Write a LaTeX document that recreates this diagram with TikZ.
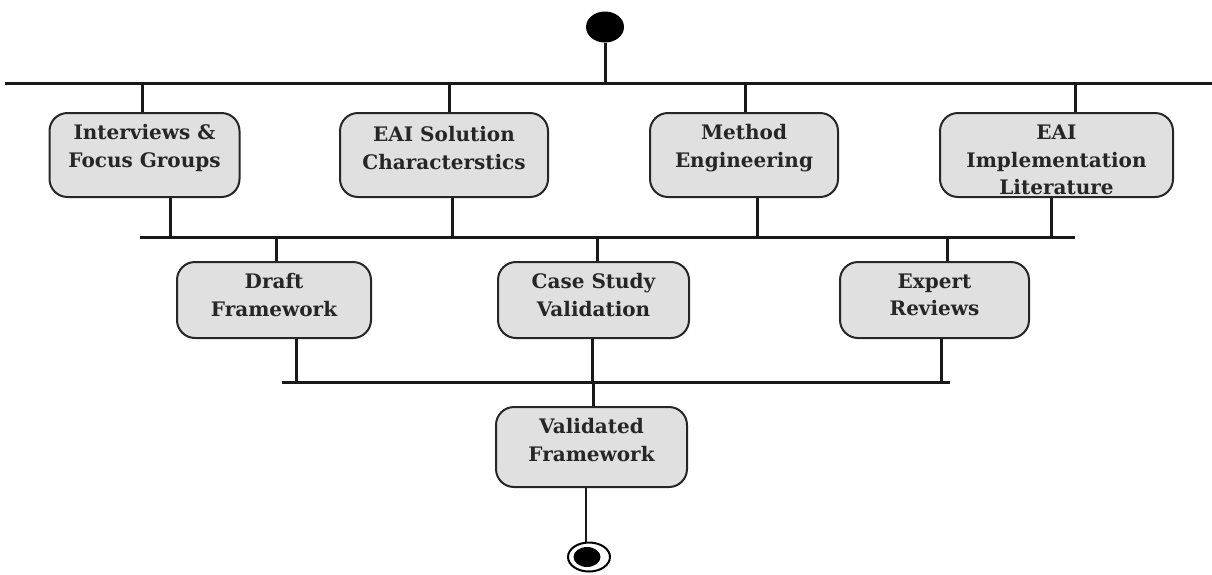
\documentclass[tikz,border=0pt]{standalone}
\usepackage{fontspec}
\usetikzlibrary{shapes.geometric}
\newfontfamily\boxfont{DejaVu Serif}
\begin{document}
\begin{tikzpicture}[x=1pt,y=-1pt,
  box/.style={draw=black!85, line width=2pt, fill=black!12, rounded corners=18pt,
    minimum height=84pt, inner sep=0pt},
  lbl/.style={font=\boxfont\bfseries\fontsize{20}{27.5}\selectfont, align=center,
    text=black!85, inner sep=0pt},
  conn/.style={line width=3pt, black!90},
  barline/.style={line width=3pt, black!90},
]
\useasboundingbox (0,0) rectangle (1212,574);

% initial and final states
\node[fill=black, ellipse, minimum width=38pt, minimum height=31pt, inner sep=0pt] (start) at (605,27) {};
\node[draw=black, line width=2pt, fill=white, ellipse, minimum width=42pt, minimum height=29pt, inner sep=0pt] (final) at (589,557) {};
\node[fill=black, ellipse, minimum width=27pt, minimum height=20pt, inner sep=0pt] (finalin) at (587,557) {};

% synchronisation bars
\coordinate (bar1L) at (5,83);   \coordinate (bar1R) at (1212,83);
\coordinate (bar2L) at (140,237); \coordinate (bar2R) at (1075,237);
\coordinate (bar3L) at (282,382); \coordinate (bar3R) at (950,382);
\draw[barline] (bar1L) -- (bar1R);
\draw[barline] (bar2L) -- (bar2R);
\draw[barline] (bar3L) -- (bar3R);

% first row of activities
\node[box, minimum width=190pt] (b1) at (144.5,155) {};
\node[box, minimum width=208pt] (b2) at (444,155) {};
\node[box, minimum width=188pt] (b3) at (744,155) {};
\node[box, minimum width=233pt] (b4) at (1056.5,155) {};
\node[lbl] at ([yshift=7]b1.center) {Interviews \&\\Focus Groups};
\node[lbl] at ([yshift=7]b2.center) {EAI Solution\\Characterstics};
\node[lbl] at ([yshift=7]b3.center) {Method\\Engineering};
\node[lbl] at ([yshift=-5]b4.center) {EAI\\Implementation\\Literature};

% second row of activities
\node[box, minimum width=194pt, minimum height=76pt] (d1) at (274,300) {};
\node[box, minimum width=191pt, minimum height=76pt] (d2) at (593.5,300) {};
\node[box, minimum width=189pt, minimum height=76pt] (d3) at (934.5,300) {};
\node[lbl] at ([yshift=5]d1.center) {Draft\\Framework};
\node[lbl] at ([yshift=5]d2.center) {Case Study\\Validation};
\node[lbl] at ([yshift=5]d3.center) {Expert\\Reviews};

% result
\node[box, minimum width=191pt, minimum height=80pt] (v) at (591.5,447) {};
\node[lbl] at ([yshift=7]v.center) {Validated\\Framework};

% control flow
\draw[conn] (start.south) -- (start.south |- bar1L);
\foreach \n/\dx in {b1/-2.5, b2/5, b3/1, b4/18.5} {
  \draw[conn] ([xshift=\dx]\n.north) -- ([xshift=\dx]\n.north |- bar1L);
}
\foreach \n/\dx in {b1/25.5, b2/8, b3/13, b4/-5.5} {
  \draw[conn] ([xshift=\dx]\n.south) -- ([xshift=\dx]\n.south |- bar2L);
}
\foreach \n/\dx in {d1/2, d2/3.5, d3/12.5} {
  \draw[conn] ([xshift=\dx]\n.north) -- ([xshift=\dx]\n.north |- bar2L);
}
\foreach \n/\dx in {d1/22, d2/-1.5, d3/6.5} {
  \draw[conn] ([xshift=\dx]\n.south) -- ([xshift=\dx]\n.south |- bar3L);
}
\draw[conn] ([xshift=1.5]v.north) -- ([xshift=1.5]v.north |- bar3L);
\coordinate (vout) at ([xshift=-5.5]v.south);
\draw[line width=2.6pt, black!90] (vout) -- (vout |- final.north);
\end{tikzpicture}
\end{document}
